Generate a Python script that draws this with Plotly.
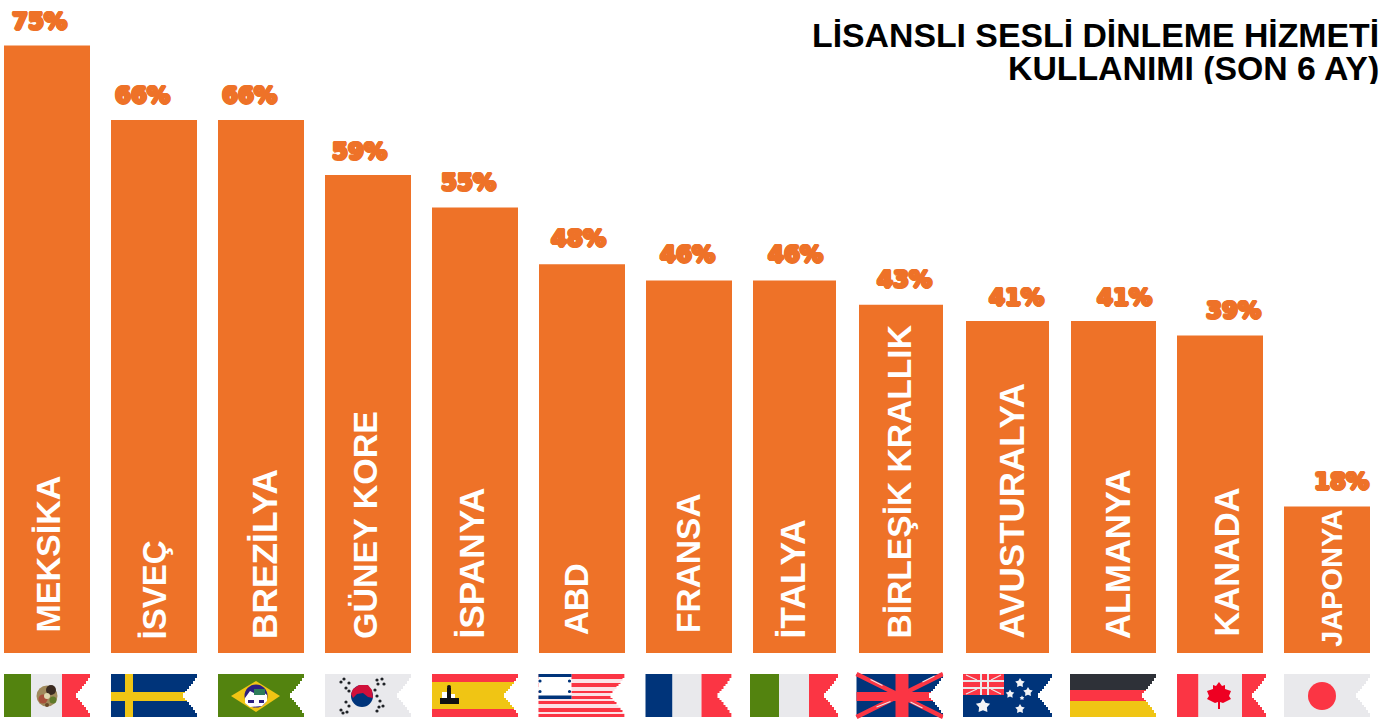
import math
import plotly.graph_objects as go

# ---------- data ----------
categories = ["MEKSİKA", "İSVEÇ", "BREZİLYA", "GÜNEY KORE", "İSPANYA", "ABD", "FRANSA",
              "İTALYA", "BİRLEŞİK KRALLIK", "AVUSTURALYA", "ALMANYA", "KANADA", "JAPONYA"]
values = [75, 65.8, 65.8, 59, 55, 48, 46, 46, 43, 41, 41, 39.2, 18.1]
value_labels = ["75%", "66%", "66%", "59%", "55%", "48%", "46%", "46%", "43%", "41%", "41%", "39%", "18%"]
title_lines = ["LİSANSLI SESLİ DİNLEME HİZMETİ", "KULLANIMI (SON 6 AY)"]

# ---------- styling / layout ----------
W, H = 1397, 720
STEP = 106.75
X0 = 47.0
BASE = 653.0
PPU = 8.1
ORANGE = "#ee7228"
GREEN, PAPER, RED, NAVY, GOLD, INK = "#53830f", "#e9e9ec", "#fb3544", "#00347a", "#f0c514", "#2e3138"

bar_left = [4, 111, 218, 325, 432, 539, 646, 753, 859, 966, 1071, 1177, 1284]
bar_px = [86, 86, 86, 86, 86, 86, 86, 83, 84, 83, 85, 86, 86]
val_cx = [39, 142, 249, 359, 468, 578, 687, 795, 904, 1016, 1124, 1233, 1341]
val_dy = [25, 25, 25, 24, 26, 26, 26, 26, 26, 24, 24, 25, 25]
lab_cx = [47, 154, 264, 365, 471, 576, 688, 792, 899, 1011, 1118, 1226, 1332]
lab_bottom = [635, 642, 641, 641, 641, 637, 635, 641, 641, 641, 641, 639, 649]
lab_size = [34, 33, 35.3, 34, 35.3, 33, 33.5, 35.5, 33.6, 35, 34.6, 34.4, 29]
flag_left = [4, 111, 218, 325, 432, 538.5, 645.5, 750, 856.5, 963, 1070, 1177, 1284]
flag_w = [86, 86, 86, 86, 86, 86, 86, 88, 86.5, 89, 86, 89, 86]
FLAG_T, FLAG_H = 674, 43

idx = list(range(len(categories)))
fig = go.Figure(go.Bar(x=idx, y=values, width=[p / STEP for p in bar_px],
                       offset=[(bar_left[i] - X0) / STEP - i for i in idx],
                       marker=dict(color=ORANGE, line=dict(width=0)), hoverinfo="skip"))

shapes = []

def fx(i, u):
    return (flag_left[i] + u - X0) / STEP

def fy(v):
    return (BASE - (FLAG_T + v)) / PPU

def rect(i, u0, v0, u1, v1, c):
    shapes.append(dict(type="rect", xref="x", yref="y", x0=fx(i, u0), x1=fx(i, u1),
                       y0=fy(v0), y1=fy(v1), fillcolor=c, line=dict(width=0), layer="above"))

def circ(i, u, v, r, c):
    shapes.append(dict(type="circle", xref="x", yref="y", x0=fx(i, u - r), x1=fx(i, u + r),
                       y0=fy(v - r), y1=fy(v + r), fillcolor=c, line=dict(width=0), layer="above"))

def poly(i, pts, c):
    d = "M" + " L".join(f"{fx(i, u):.4f},{fy(v):.4f}" for u, v in pts) + " Z"
    shapes.append(dict(type="path", xref="x", yref="y", path=d, fillcolor=c,
                       line=dict(width=0), layer="above"))

def line(i, u0, v0, u1, v1, t, c):
    dx, dy = u1 - u0, v1 - v0
    n = (dx * dx + dy * dy) ** 0.5
    ox, oy = -dy / n * t / 2, dx / n * t / 2
    poly(i, [(u0 + ox, v0 + oy), (u1 + ox, v1 + oy), (u1 - ox, v1 - oy), (u0 - ox, v0 - oy)], c)

def star(i, u, v, r, c):
    pts = []
    for k in range(10):
        a = -math.pi / 2 + k * math.pi / 5
        rr = r if k % 2 == 0 else r * 0.55
        pts.append((u + rr * math.cos(a), v + rr * math.sin(a)))
    poly(i, pts, c)

def notch(i):
    w = flag_w[i]
    steps = [(2, 4), (4, 7), (6, 10), (8, 12), (10, 15), (12, 17), (14, 19)]
    top = [(w + 1, -0.5), (w + 0.2, -0.5)]
    prev = 0.2
    for d, v in steps:
        top += [(w - prev, v), (w - d, v)] if prev > 0.2 else [(w + 0.2, v), (w - d, v)]
        prev = d
    bottom = [(u, FLAG_H - v) for u, v in reversed(top)]
    poly(i, top + bottom, "#ffffff")

def bands_v(i, edges, cols):
    for a, b, c in zip(edges[:-1], edges[1:], cols):
        rect(i, a, 0, b, FLAG_H, c)

def bands_h(i, edges, cols):
    for a, b, c in zip(edges[:-1], edges[1:], cols):
        rect(i, 0, a, flag_w[i], b, c)

# Mexico
bands_v(0, [0, 27, 58, 86], [GREEN, PAPER, RED])
circ(0, 43, 22, 10.5, "#a08a5c")
circ(0, 47, 16, 5, "#3a2a20")
circ(0, 39, 25, 4.5, "#a8503a")
circ(0, 43, 22, 3, "#e0d8b0")
circ(0, 49, 26, 3.5, "#5f7a2a")
circ(0, 43, 31, 2, "#6b4a2a")
# Sweden
rect(1, 0, 0, 86, 43, NAVY); rect(1, 14, 0, 22, 43, GOLD); rect(1, 0, 18, 86, 27, GOLD)
# Brazil
rect(2, 0, 0, 86, 43, GREEN)
poly(2, [(13, 22), (38, 7), (62, 22), (38, 38)], GOLD)
circ(2, 38, 22, 11.5, "#2c1f80")
poly(2, [(27, 24), (32, 17), (38, 20), (44, 17), (49, 21), (49, 27), (44, 32), (32, 33), (27, 29)], "#ffffff")
rect(2, 36, 15, 47, 21, "#2e7d5a")
rect(2, 30, 26, 36, 29, "#2c1f80"); rect(2, 41, 26, 46, 29, "#2c1f80")
# South Korea
rect(3, 0, 0, 86, 43, PAPER)
circ(3, 37, 22, 11, NAVY)
poly(3, [(26, 20), (28, 15), (34, 11), (43, 11), (47, 16), (48, 24), (43, 23), (38, 19), (32, 20), (28, 24)], "#d0103a")
for u, v in [(16, 8), (19, 5), (24, 9), (21, 14), (53, 10), (52, 6), (57, 5), (59, 10), (16, 36), (18, 39),
             (24, 32), (21, 28), (52, 37), (54, 33), (58, 32), (55, 27), (22, 38), (50, 16), (24, 17), (52, 22)]:
    circ(3, u, v, 1.6, "#1f2226")
# Spain
bands_h(4, [0, 8, 35, 43], [RED, GOLD, RED])
rect(4, 8, 24, 27, 30, "#111111"); rect(4, 15, 14, 19, 24, "#111111"); circ(4, 17, 13, 2, "#111111")
rect(4, 10, 18, 15, 24, "#ffffff"); rect(4, 19, 20, 23, 24, "#ffffff")
# USA
rect(5, 0, 0, 86, 43, "#fbe3e6")
for v0, v1 in [(0, 5), (9, 13), (17, 19), (22, 25), (27, 30), (34, 38), (40, 43)]:
    rect(5, 0, v0, 86, v1, RED)
rect(5, 0, 0, 33, 25, "#ffffff"); rect(5, 0, 0, 33, 3, NAVY); rect(5, 0, 21.5, 33, 25, NAVY)
for u, v in [(1.5, 7), (31, 7), (1.5, 17.5), (31, 17.5)]:
    circ(5, u, v, 1.6, NAVY)
# France, Italy
bands_v(6, [0, 27, 56, 86], [NAVY, PAPER, RED])
bands_v(7, [0, 29, 59, 88], [GREEN, PAPER, RED])
# UK
rect(8, 0, 0, 86.5, 43, NAVY)
line(8, 0, 0, 86.5, 43, 4.5, RED); line(8, 0, 43, 86.5, 0, 4.5, RED)
rect(8, 39, 0, 52, 43, RED); rect(8, 0, 18, 86.5, 27, RED)
line(8, 14, 5.5, 26, 11.5, 1, PAPER); line(8, 66, 8, 78, 2, 1, PAPER)
line(8, 20, 33, 34, 27.5, 1, PAPER); line(8, 54, 28, 66, 34, 1, PAPER)
# Australia
rect(9, 0, 0, 89, 43, NAVY)
rect(9, 0, 0, 41, 21, RED)
rect(9, 0, 6, 41, 8, PAPER); rect(9, 0, 13, 41, 15, PAPER)
rect(9, 17, 0, 19, 21, PAPER); rect(9, 24, 0, 26, 21, PAPER)
line(9, 3, 1, 14, 6, 1.2, PAPER); line(9, 38, 1, 28, 6, 1.2, PAPER)
line(9, 3, 20, 14, 15, 1.2, PAPER); line(9, 38, 20, 28, 15, 1.2, PAPER)
for u, v, r in [(20, 32, 7.5), (57, 9, 5), (65, 18, 5), (47, 20, 4.5), (59, 24, 2.5), (57, 35, 5)]:
    star(9, u, v, r, "#f3f4f6")
# Germany
bands_h(10, [0, 16, 27, 43], [INK, RED, GOLD])
# Canada
bands_v(11, [0, 21.5, 65, 89], [RED, PAPER, RED])
poly(11, [(42, 8), (45, 12), (48, 11), (48, 15), (54, 17), (52, 22), (54, 25), (46, 29), (43, 28), (43, 35),
          (41, 35), (41, 28), (38, 29), (30, 25), (32, 22), (30, 17), (36, 15), (36, 11), (39, 12)], "#ee0022")
# Japan
rect(12, 0, 0, 86, 43, PAPER)
circ(12, 38, 22, 14, RED)

for i in idx:
    notch(i)

blob = ", ".join(f"{a}px {b}px {ORANGE}" for a, b in
                 [(1.5, 0), (-1.5, 0), (0, 1.5), (0, -1.5), (1, 1), (-1, 1), (1, -1), (-1, -1)])
annotations = []
for i in idx:
    annotations.append(dict(x=(lab_cx[i] - X0) / STEP, y=0, xref="x", yref="y", text=categories[i], textangle=-90,
                            showarrow=False, xanchor="center", yanchor="bottom", yshift=BASE - lab_bottom[i],
                            font=dict(family="Liberation Sans", size=lab_size[i], color="#ffffff", weight="bold")))
    annotations.append(dict(x=(val_cx[i] - X0) / STEP, y=values[i], xref="x", yref="y", text=value_labels[i],
                            showarrow=False, xanchor="center", yanchor="middle", yshift=val_dy[i],
                            font=dict(family="DejaVu Sans", size=23, color=ORANGE, weight="bold", shadow=blob)))
for k, t in enumerate(title_lines):
    annotations.append(dict(x=1380 / W, y=1 - (35 + 33 * k) / H, xref="paper", yref="paper", text=t, showarrow=False,
                            xanchor="right", yanchor="middle", height=32, valign="middle", borderpad=0,
                            font=dict(family="Liberation Sans", size=33.8, color="#000000", weight="bold")))

fig.update_layout(
    width=W, height=H, margin=dict(l=0, r=0, t=0, b=0), autosize=False,
    paper_bgcolor="#ffffff", plot_bgcolor="#ffffff", showlegend=False, hovermode=False,
    xaxis=dict(range=[-X0 / STEP, (W - X0) / STEP], visible=False, fixedrange=True),
    yaxis=dict(range=[(BASE - H) / PPU, BASE / PPU], visible=False, fixedrange=True),
    shapes=shapes, annotations=annotations,
)

fig.write_html("out.html", config=dict(displayModeBar=False),
               post_script="document.body.style.margin='0';document.documentElement.style.overflow='hidden';")
